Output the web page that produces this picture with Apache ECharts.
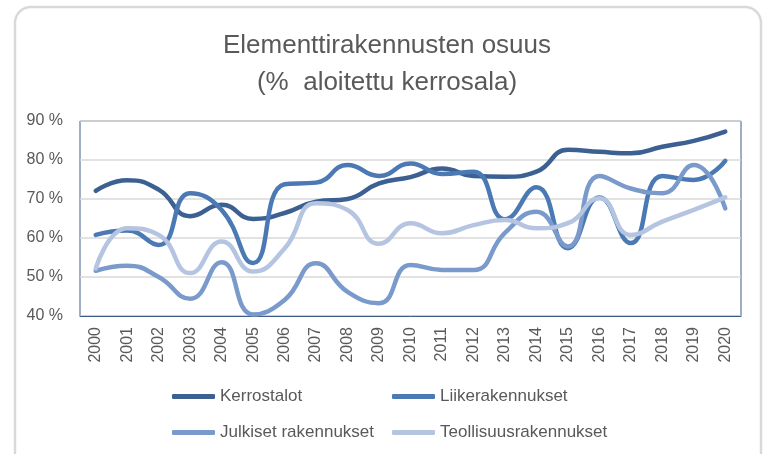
<!DOCTYPE html>
<html>
<head>
<meta charset="utf-8">
<script src="https://cdn.jsdelivr.net/npm/echarts@6/dist/echarts.min.js"></script>
<style>html,body{margin:0;padding:0;background:#fff}#c{width:764px;height:454px}</style>
</head>
<body>
<div id="c"></div>
<script>
const years = ['2000','2001','2002','2003','2004','2005','2006','2007','2008','2009','2010','2011','2012','2013','2014','2015','2016','2017','2018','2019','2020'];
const kerrostalot = [72.1,74.8,72.4,65.6,68.5,64.9,66.4,69.3,70.0,74.0,75.6,77.8,75.9,75.7,77.0,82.6,82.1,81.7,83.4,84.9,87.3];
const liikerakennukset = [60.8,61.9,58.2,71.5,67.2,53.6,73.8,74.2,78.7,75.9,79.1,76.4,77.0,64.8,73.0,57.4,70.4,58.7,75.9,74.9,79.8];
const julkiset = [51.6,52.9,50.0,44.4,53.8,40.4,44.1,53.5,46.2,43.3,53.1,51.8,51.8,61.3,66.7,57.8,75.9,72.7,71.5,78.7,67.6];
const teollisuus = [52.2,62.5,60.8,51.0,59.1,51.4,57.3,68.9,67.2,58.5,63.8,61.2,63.3,64.6,62.5,63.8,70.2,60.8,64.2,67.2,70.4];
const seriesNames = ['Kerrostalot','Liikerakennukset','Julkiset rakennukset','Teollisuusrakennukset'];
const yTicks = {min: 40, max: 90, interval: 10};
const titleText = 'Elementtirakennusten osuus\n(%  aloitettu kerrosala)';

const colors = ['#3c6092','#4a79b4','#7a9acb','#b5c5e1'];
const values = [kerrostalot, liikerakennukset, julkiset, teollisuus];

const chart = echarts.init(document.getElementById('c'));
const legendText = {color:'#595959', fontSize:17, fontFamily:'Liberation Sans'};
chart.setOption({
  animation:false,
  graphic:[
    {type:'rect', z:-10, shape:{x:15, y:7, width:746, height:462, r:16}, style:{fill:'#fff', stroke:'#d9d9d9', lineWidth:2.5}},
    {type:'text', x:387, y:27, style:{text:titleText, textAlign:'center', textVerticalAlign:'top', font:'26px "Liberation Sans"', lineHeight:37, fill:'#595959'}}
  ],
  grid:{left:80, right:23, top:121, bottom:138, show:true, borderColor:'#3f5d86', borderWidth:1, containLabel:false},
  xAxis:{type:'category', data:years, boundaryGap:true,
    axisLine:{show:true, lineStyle:{color:'#3f5d86'}}, axisTick:{show:false},
    axisLabel:{rotate:90, margin:11, color:'#595959', fontSize:16, fontFamily:'Liberation Sans', interval:0}},
  yAxis:{type:'value', min:yTicks.min, max:yTicks.max, interval:yTicks.interval,
    axisLine:{show:false}, axisTick:{show:false},
    splitLine:{lineStyle:{color:'#d9d9d9', width:1.5}},
    axisLabel:{formatter:'{value} %', margin:17, color:'#595959', fontSize:16, fontFamily:'Liberation Sans'}},
  legend:[
    {data:[seriesNames[0], seriesNames[2]], orient:'vertical', left:167, top:383, itemWidth:43, itemHeight:5, itemGap:19, textStyle:legendText, icon:'roundRect'},
    {data:[seriesNames[1], seriesNames[3]], orient:'vertical', left:387, top:383, itemWidth:43, itemHeight:5, itemGap:19, textStyle:legendText, icon:'roundRect'}
  ],
  series: seriesNames.map((n,i)=>({
    name:n, type:'line', data:values[i], smooth:0.5, symbol:'none',
    lineStyle:{width:4.5, color:colors[i], cap:'round'}, itemStyle:{color:colors[i]}
  }))
});
</script>
</body>
</html>
